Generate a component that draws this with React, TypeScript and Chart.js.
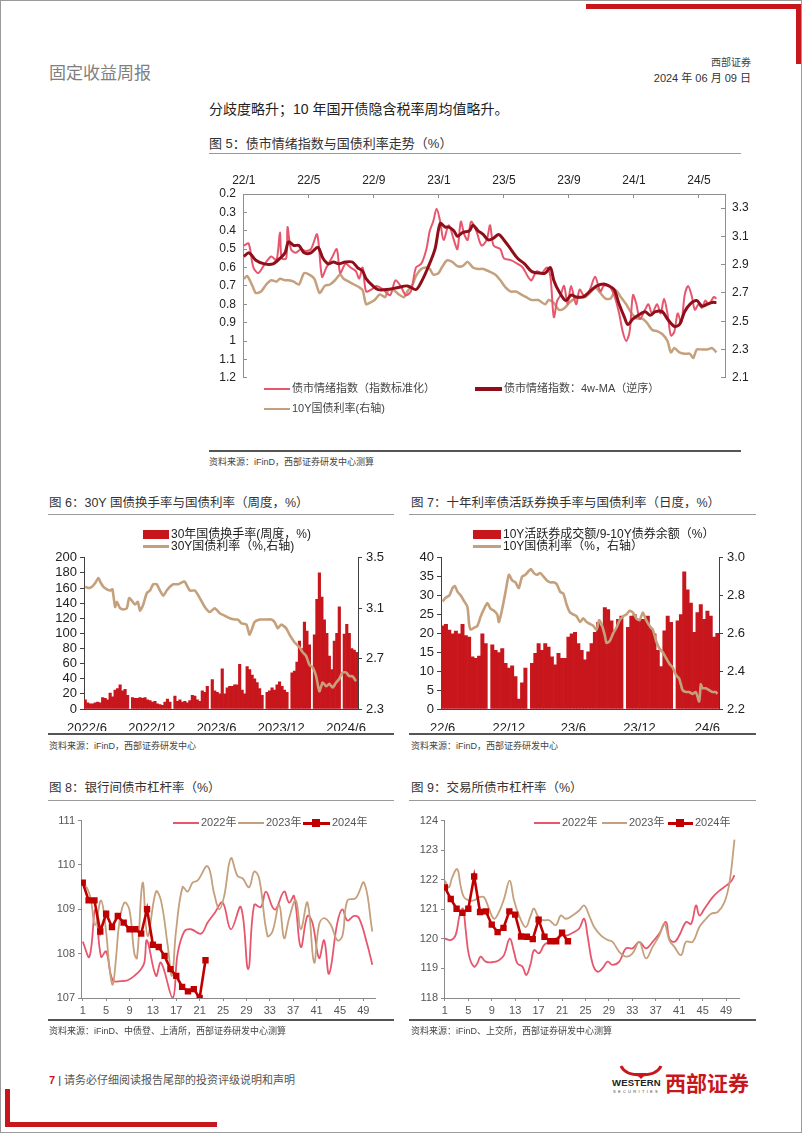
import React, { useEffect, useRef } from 'react';
import { Chart, registerables } from 'chart.js';
Chart.register(...registerables);

const FONT = '"Liberation Sans", Arial, "Noto Sans CJK SC", sans-serif';
Chart.defaults.font.family = FONT;

const PINK = '#E8566E';
const DARKRED = '#8E0F1A';
const TAN = '#C4A07C';
const RED = '#C8161D';
const RED24 = '#C00000';

// ---------- Figure 5 (x: months since 2022/1) ----------
const fig5TickPos = [0, 4, 8, 12, 16, 20, 24, 28];
const fig5TickLabels = ['22/1', '22/5', '22/9', '23/1', '23/5', '23/9', '24/1', '24/5'];
const fig5LeftTicks = [0.2, 0.3, 0.4, 0.5, 0.6, 0.7, 0.8, 0.9, 1.0, 1.1, 1.2];
const fig5RightTicks = [2.1, 2.3, 2.5, 2.7, 2.9, 3.1, 3.3];

const sentX = [0,0.30,0.59,0.89,1.29,1.69,2.01,2.22,2.33,2.61,2.69,2.90,3.20,3.50,3.81,4.13,4.51,4.81,5.08,5.40,5.72,5.93,6.25,6.57,6.89,7.10,7.31,7.52,7.84,8.16,8.58,9.00,9.32,9.64,9.96,10.28,10.59,10.91,11.23,11.44,11.65,11.86,12.08,12.29,12.61,12.92,13.14,13.35,13.56,13.77,13.98,14.30,14.62,14.94,15.15,15.36,15.78,16.00,16.42,16.84,17.16,17.48,17.69,18.01,18.33,18.64,18.86,19.07,19.28,19.49,19.70,19.92,20.13,20.44,20.66,20.97,21.29,21.61,21.93,22.14,22.46,22.78,23.09,23.31,23.52,23.73,23.94,24.15,24.36,24.68,24.89,25.11,25.42,25.64,25.85,26.06,26.27,26.48,26.69,26.91,27.12,27.33,27.54,27.75,27.97,28.18,28.39,28.60,28.92,29.07];
const sentVals = [0.48,0.47,0.60,0.63,0.58,0.54,0.56,0.41,0.55,0.55,0.38,0.50,0.52,0.50,0.51,0.50,0.42,0.65,0.60,0.55,0.50,0.63,0.58,0.60,0.62,0.66,0.60,0.73,0.72,0.70,0.72,0.75,0.67,0.70,0.75,0.73,0.60,0.58,0.50,0.40,0.35,0.28,0.35,0.45,0.37,0.45,0.50,0.35,0.42,0.45,0.35,0.40,0.48,0.45,0.37,0.48,0.50,0.55,0.56,0.58,0.60,0.65,0.67,0.62,0.63,0.60,0.65,0.87,0.78,0.75,0.70,0.80,0.70,0.80,0.72,0.76,0.72,0.65,0.73,0.70,0.70,0.75,0.85,0.95,1.00,0.95,0.75,0.80,0.88,0.83,0.80,0.85,0.80,0.85,0.77,0.85,0.97,0.95,0.85,0.90,0.75,0.70,0.75,0.83,0.80,0.82,0.78,0.80,0.76,0.77];

const maX = [0,0.32,0.74,1.27,1.80,2.22,2.54,2.75,3.07,3.39,3.71,4.13,4.56,4.87,5.19,5.51,5.83,6.25,6.67,6.99,7.31,7.52,7.94,8.26,8.79,9.43,10.06,10.59,10.91,11.33,11.76,12.08,12.39,12.61,12.92,13.14,13.45,13.88,14.09,14.41,14.72,15.04,15.36,15.68,16.00,16.42,16.84,17.27,17.69,18.11,18.54,18.86,19.07,19.39,19.81,20.13,20.44,20.87,21.29,21.72,22.14,22.46,22.78,23.09,23.41,23.62,23.94,24.26,24.68,25.00,25.32,25.74,26.06,26.48,26.80,27.12,27.44,27.86,28.18,28.50,28.81,29.07];
const maVals = [0.54,0.52,0.56,0.58,0.58,0.55,0.52,0.46,0.48,0.48,0.52,0.52,0.49,0.55,0.58,0.57,0.58,0.57,0.57,0.60,0.62,0.66,0.70,0.72,0.72,0.71,0.70,0.72,0.68,0.60,0.50,0.36,0.38,0.38,0.40,0.43,0.41,0.40,0.37,0.40,0.42,0.45,0.44,0.42,0.45,0.50,0.55,0.58,0.62,0.63,0.63,0.60,0.67,0.73,0.78,0.75,0.76,0.76,0.73,0.70,0.69,0.70,0.72,0.80,0.87,0.91,0.88,0.86,0.84,0.86,0.84,0.84,0.88,0.92,0.91,0.84,0.80,0.78,0.81,0.80,0.79,0.79];

const tenX = [0,0.21,0.53,0.74,1.06,1.38,1.69,2.01,2.22,2.54,2.75,3.07,3.39,3.71,4.03,4.34,4.66,4.98,5.30,5.61,5.93,6.14,6.46,6.78,7.10,7.31,7.52,7.73,8.05,8.37,8.69,8.90,9.22,9.53,9.85,10.06,10.38,10.59,10.91,11.23,11.44,11.65,11.97,12.18,12.50,12.82,13.14,13.45,13.77,14.09,14.41,14.72,15.15,15.47,15.78,16.10,16.42,16.74,17.06,17.37,17.69,18.11,18.54,18.75,19.07,19.39,19.70,20.02,20.34,20.66,20.97,21.29,21.61,21.93,22.25,22.56,22.88,23.20,23.52,23.83,24.15,24.47,24.79,25.11,25.42,25.74,26.06,26.27,26.48,26.80,27.12,27.44,27.65,27.86,28.18,28.50,28.81,29.07];
const tenVals = [2.80,2.82,2.75,2.70,2.71,2.76,2.79,2.78,2.80,2.79,2.79,2.78,2.76,2.84,2.83,2.80,2.70,2.75,2.76,2.79,2.83,2.80,2.78,2.76,2.74,2.72,2.62,2.63,2.65,2.69,2.67,2.72,2.72,2.69,2.67,2.71,2.76,2.82,2.87,2.88,2.87,2.83,2.84,2.88,2.93,2.92,2.89,2.89,2.92,2.88,2.87,2.87,2.85,2.83,2.79,2.74,2.71,2.71,2.69,2.67,2.65,2.65,2.62,2.65,2.63,2.58,2.59,2.63,2.66,2.67,2.67,2.70,2.74,2.70,2.66,2.66,2.72,2.67,2.62,2.56,2.52,2.52,2.49,2.44,2.43,2.41,2.36,2.28,2.31,2.28,2.27,2.27,2.24,2.30,2.30,2.30,2.31,2.28];

// ---------- Figure 6 (weekly, index 0 = 2022/6 first week) ----------
const fig6TickPos = [0.7, 26.7, 52.7, 78.7, 104.7];
const fig6TickLabels = ['2022/6', '2022/12', '2023/6', '2023/12', '2024/6'];
const fig6LeftTicks = [0, 20, 40, 60, 80, 100, 120, 140, 160, 180, 200];
const fig6RightTicks = [2.3, 2.7, 3.1, 3.5];
const turnover30 = [12,8,7,7,8,9,8,15,14,12,21,16,25,27,32,24,26,18,null,15,14,14,15,14,15,12,11,9,10,7,6,5,9,13,9,null,17,10,12,9,10,8,11,18,17,12,10,24,22,30,null,39,24,22,20,53,20,28,30,30,32,32,59,25,20,56,52,45,40,35,27,18,null,22,24,28,25,32,36,30,25,22,null,48,50,62,90,80,115,103,85,null,98,145,180,148,118,100,70,52,90,100,135,null,99,112,100,80,78,75];
const y30X = [0,1.3,2.7,4,5.3,6,7.3,8.7,10,10.9,12,12.7,14,15.3,16.7,17.6,18.7,20,21.1,22,23.3,24.7,26,27.3,28.7,30,31.3,32.7,34,35.3,37.3,39.3,40,42,44,46,48,50,52,54,56,58,60,61.3,62.7,64.7,66,68,70,72,74.7,76,77.3,78.7,80.7,82,84,86,87.3,88.7,90,91.3,92.7,94,95.3,96.7,98,99.3,100.7,102,103.3,104.7,106,107.3,108.7];
const y30Vals = [3.27,3.26,3.27,3.30,3.34,3.31,3.27,3.25,3.24,3.25,3.11,3.15,3.10,3.09,3.10,3.18,3.16,3.13,3.15,3.08,3.13,3.22,3.24,3.29,3.29,3.24,3.20,3.24,3.27,3.29,3.29,3.31,3.31,3.24,3.24,3.18,3.11,3.07,3.10,3.06,3.04,3.02,3.01,3.01,2.98,2.97,2.89,2.99,3.01,3.01,3.01,2.99,2.94,2.97,2.94,2.89,2.83,2.79,2.75,2.72,2.65,2.63,2.56,2.44,2.51,2.48,2.50,2.47,2.51,2.54,2.59,2.59,2.56,2.56,2.52];

// ---------- Figure 7 (daily sampled, index 0 = 2022/6) ----------
const fig7TickPos = [0, 20, 39.5, 59.5, 80];
const fig7TickLabels = ['22/6', '22/12', '23/6', '23/12', '24/6'];
const fig7LeftTicks = [0, 5, 10, 15, 20, 25, 30, 35, 40];
const fig7RightTicks = [2.2, 2.4, 2.6, 2.8, 3.0];
const turnover10 = [22,22.4,20.9,19.9,20.6,19.9,22.4,19.4,19,13.8,13.4,14,19.9,17.3,null,17,15.5,14.9,16,12.1,10.8,11.4,8.6,2.6,6.9,10.8,null,12.1,14.7,17.3,15.5,17.3,16.4,13.8,11.7,14.7,13.4,13.4,19,19.9,20.3,17.3,15.5,13,15.1,17.3,20.3,22.9,22,26.8,26.3,23.3,20.7,23.7,24.6,null,21.6,24.6,25,23.7,23.7,23.7,24.6,21.2,19.9,15.5,11.2,20.7,24.6,22.9,null,23.3,25,36.3,31.5,28,20.3,25.5,27.6,23.7,25.9,24.6,19,20];
const y10X = [0,1,2,3,3.7,4.5,5.5,6.5,7.5,8,8.5,9.5,10.5,11.5,12.5,13.5,14.5,15.5,16.5,17,18,19,20,21,22,23,24,25,26,26.7,27.5,28.5,29.5,30.5,31.5,32.5,33.5,34.5,35.5,36.5,37.5,38.5,39.5,40.5,41.5,42.5,43.5,44.5,45.5,46.5,47.3,48,49,49.5,50.5,51.5,52.5,53.5,54.5,55.5,56.5,57.5,58.5,59.5,60.5,61.5,62.5,63.5,64.5,65.5,66.5,67.5,68.5,69.5,70.5,71.5,72.5,73.5,74.5,75.5,76.5,77.5,78,78.5,79.5,80.5,81.5,82.5,83];
const y10Vals = [2.77,2.79,2.80,2.84,2.85,2.82,2.80,2.77,2.74,2.65,2.62,2.63,2.64,2.69,2.73,2.76,2.73,2.72,2.70,2.66,2.73,2.82,2.91,2.88,2.87,2.84,2.90,2.91,2.93,2.94,2.92,2.91,2.92,2.90,2.88,2.87,2.87,2.86,2.82,2.81,2.75,2.71,2.70,2.69,2.66,2.68,2.66,2.65,2.64,2.62,2.67,2.65,2.59,2.55,2.56,2.60,2.63,2.67,2.69,2.70,2.72,2.71,2.68,2.67,2.71,2.67,2.64,2.62,2.56,2.52,2.50,2.47,2.44,2.42,2.38,2.36,2.30,2.29,2.29,2.28,2.29,2.24,2.33,2.31,2.31,2.30,2.29,2.29,2.28];

// ---------- Figure 8 / 9 (week of year) ----------
const weekTicks = [1, 5, 9, 13, 17, 21, 25, 29, 33, 37, 41, 45, 49];
const fig8Ticks = [107, 108, 109, 110, 111];
const fig9Ticks = [118, 119, 120, 121, 122, 123, 124];
const week24 = [1,2,3,4,5,6,7,8,9,10,11,12,13,14,15,16,17,18,19,20,21,22];

const f8w22X = [1.0,2.14,3.16,4.13,4.99,6.13,7.55,8.69,9.83,10.97,11.54,11.99,13.53,14.38,16.38,17.23,18.37,19.51,21.22,22.36,23.49,24.92,26.34,28.05,29.30,30.33,31.47,32.32,33.46,34.03,35.45,36.31,37.16,38.30,39.44,40.29,41.43,42.29,43.14,44.56,45.42,46.27,47.41,48.27,49.69,50.54];
const f8w22 = [108.27,107.93,109.0,107.93,108.05,107.4,107.38,107.4,107.5,107.65,107.8,108.3,107.5,107.8,107.0,108.0,108.5,108.55,108.45,108.7,108.9,109.15,108.55,109.05,107.65,109.1,109.05,109.4,109.05,109.0,109.4,109.15,109.3,108.15,108.85,108.7,107.9,108.3,107.55,108.7,109.0,108.75,108.85,108.8,108.2,107.75];
const f8w23X = [1.0,1.85,2.42,3.11,4.13,4.99,5.56,6.13,6.69,7.26,8.12,8.97,9.83,10.28,11.25,12.10,13.53,14.38,15.52,16.26,16.95,18.08,18.94,19.79,20.65,22.36,23.49,24.35,25.20,26.34,27.48,28.33,29.47,30.33,31.18,32.61,33.46,34.60,35.45,36.31,37.45,38.30,39.44,40.58,41.43,42.29,43.43,44.56,45.42,46.27,47.70,49.12,50.54];
const f8w23 = [109.6,109.45,109.2,108.64,109.2,108.5,107.7,107.3,107.9,108.7,109.15,109.0,108.0,107.9,109.6,108.4,109.4,109.2,108.2,107.5,108.5,109.5,109.4,109.6,109.65,109.97,109.35,109.0,109.3,110.15,109.75,109.7,109.5,109.85,109.7,108.4,108.5,109.1,108.35,108.8,109.2,108.55,109.15,107.8,108.65,108.8,108.65,108.3,108.4,109.2,109.25,109.6,108.5];
const f8w24 = [109.6,109.2,109.2,108.5,108.9,108.6,108.85,108.7,108.55,108.55,108.45,109.0,108.2,108.15,107.95,107.65,107.5,107.25,107.15,107.2,107.0,107.85];

const f9w22X = [1,1.97,2.82,3.51,4.08,4.53,5.10,5.96,6.53,7.10,7.96,9.10,10.24,11.09,12.06,12.80,13.37,14.23,14.91,15.65,16.22,17.08,17.93,18.79,19.93,21.07,21.92,23.06,23.92,24.77,25.34,26.20,27.05,27.91,28.77,29.62,30.76,31.90,33.04,34.18,35.32,36.46,37.60,38.74,39.31,40.17,41.02,42.16,43.02,43.87,44.44,45.30,46.72,47.86,49.00,49.86,50.43];
const f9w22 = [120.01,119.96,120.12,120.79,121.02,120.35,119.45,119.06,119.17,119.40,119.23,119.21,119.28,119.45,120.01,119.56,119.17,119.06,118.78,119.17,119.62,119.51,119.79,119.90,120.01,120.12,120.12,120.23,120.35,120.68,120.12,119.17,118.89,119.01,119.23,119.12,119.23,119.68,119.68,119.90,119.68,119.90,120.18,120.57,120.01,119.90,120.12,120.57,120.51,121.13,120.79,121.02,121.41,121.63,121.8,121.95,122.15];
const f9w23X = [1,1.68,2.25,3.11,3.68,4.25,5.10,5.96,6.82,7.67,8.53,9.38,10.24,11.09,12.06,12.80,13.66,14.80,15.65,16.22,17.08,17.93,18.79,19.93,20.78,21.64,22.78,23.92,24.77,25.63,26.48,27.62,28.77,29.62,30.76,31.90,33.04,34.18,35.32,36.46,37.60,38.46,39.31,40.17,41.31,42.16,43.30,44.44,45.58,46.44,47.58,48.72,49.58,50.43];
const f9w23 = [121.97,121.74,122.08,122.36,121.80,121.41,121.30,121.30,121.41,121.41,121.02,120.68,120.91,121.35,121.97,121.30,120.79,120.40,120.79,121.02,120.68,120.63,120.63,120.46,120.79,120.68,120.79,120.96,121.13,120.79,120.40,120.12,119.96,119.90,119.56,119.40,119.51,119.90,119.34,119.73,120.12,120.51,119.96,119.73,119.45,119.90,119.90,120.40,120.68,120.85,120.91,121.24,121.91,123.36];
const f9w24 = [121.74,121.35,121.02,120.88,121.02,122.11,120.91,120.93,120.48,120.23,120.37,120.93,120.82,120.08,120.07,119.99,120.65,120.07,119.92,119.92,120.21,119.92];

// ---------- helpers ----------
const pts = (xs: number[], ys: (number | null)[]) => xs.map((x, i) => ({ x, y: ys[i] }));
const idxPts = (ys: (number | null)[]) => ys.map((y, i) => ({ x: i, y }));
const ticksAt = (vals: number[]) => (scale: any) => { scale.ticks = vals.map((v) => ({ value: v })); };
const labelFor = (pos: number[], labels: string[]) => (v: number) => { const i = pos.indexOf(v); return i >= 0 ? labels[i] : ''; };
const baseOpts = { responsive: false, animation: false, events: [] as any[], plugins: { legend: { display: false }, tooltip: { enabled: false } } };

function fig5Config(): any {
  const ac = '#8f8f8f';
  return {
    type: 'line',
    data: { datasets: [
      { data: pts(maX, maVals), borderColor: DARKRED, borderWidth: 3, pointRadius: 0, tension: 0.3, yAxisID: 'y', order: 0 },
      { data: pts(sentX, sentVals), borderColor: PINK, borderWidth: 2, pointRadius: 0, tension: 0.3, yAxisID: 'y', order: 1 },
      { data: pts(tenX, tenVals), borderColor: TAN, borderWidth: 2.5, pointRadius: 0, tension: 0.25, yAxisID: 'y2', order: 2 },
    ] },
    options: {
      ...baseOpts,
      layout: { padding: { top: 0, bottom: 5, left: 0, right: 0 } },
      scales: {
        x: { type: 'linear', position: 'top', min: -0.05, max: 29.6, afterBuildTicks: ticksAt(fig5TickPos), afterFit: (s: any) => { s.height = 28; },
          ticks: { autoSkip: false, maxRotation: 0, padding: 10, color: '#222', font: { size: 12 }, callback: labelFor(fig5TickPos, fig5TickLabels) },
          grid: { drawOnChartArea: false, tickLength: -4, color: ac }, border: { color: ac } },
        y: { position: 'left', reverse: true, min: 0.2, max: 1.2, afterBuildTicks: ticksAt(fig5LeftTicks), afterFit: (s: any) => { s.width = 42; },
          ticks: { autoSkip: false, padding: 11, color: '#222', font: { size: 12 }, callback: (v: number) => String(+v.toFixed(1)) },
          grid: { drawOnChartArea: false, tickLength: -4, color: ac }, border: { color: ac } },
        y2: { position: 'right', min: 2.1, max: 3.4, afterBuildTicks: ticksAt(fig5RightTicks), afterFit: (s: any) => { s.width = 26; },
          ticks: { autoSkip: false, padding: 11, color: '#222', font: { size: 12 }, callback: (v: number) => v.toFixed(1) },
          grid: { drawOnChartArea: false, tickLength: -4, color: ac }, border: { color: ac } },
      },
    },
  };
}

function barLineConfig(bars: (number | null)[], lx: number[], ly: number[], xMax: number, tickPos: number[], tickLabels: string[], leftTicks: number[], rightTicks: number[], leftW: number, rightW: number): any {
  const ac = '#404040';
  return {
    type: 'bar',
    data: { datasets: [
      { type: 'line', data: pts(lx, ly), borderColor: TAN, borderWidth: 2.6, pointRadius: 0, tension: 0.2, yAxisID: 'y2', order: 0 },
      { type: 'bar', data: idxPts(bars), backgroundColor: RED, borderWidth: 0, barPercentage: 1, categoryPercentage: 1, yAxisID: 'y', order: 1 },
    ] },
    options: {
      ...baseOpts,
      layout: { padding: { top: 7, bottom: 0, left: 0, right: 0 } },
      scales: {
        x: { type: 'linear', offset: false, min: -0.5, max: xMax, afterBuildTicks: ticksAt(tickPos), afterFit: (s: any) => { s.height = 22; },
          ticks: { autoSkip: false, maxRotation: 0, padding: 4, color: '#222', font: { size: 13 }, callback: labelFor(tickPos, tickLabels) },
          grid: { display: false }, border: { color: ac } },
        y: { position: 'left', min: leftTicks[0], max: leftTicks[leftTicks.length - 1], afterBuildTicks: ticksAt(leftTicks), afterFit: (s: any) => { s.width = leftW; },
          ticks: { autoSkip: false, padding: 3, color: '#222', font: { size: 13 } },
          grid: { drawOnChartArea: false, tickLength: 4, color: ac }, border: { color: ac } },
        y2: { position: 'right', min: rightTicks[0], max: rightTicks[rightTicks.length - 1], afterBuildTicks: ticksAt(rightTicks), afterFit: (s: any) => { s.width = rightW; },
          ticks: { autoSkip: false, padding: 4, color: '#222', font: { size: 13 }, callback: (v: number) => v.toFixed(1) },
          grid: { drawOnChartArea: false, tickLength: 4, color: ac }, border: { color: ac } },
      },
    },
  };
}

function leverageConfig(x22: number[], v22: number[], x23: number[], v23: number[], v24: number[], yTicks: number[], xMin: number, xMax: number, leftW: number, padRight: number): any {
  const ac = '#8a8a8a';
  return {
    type: 'line',
    data: { datasets: [
      { data: pts(week24, v24), borderColor: RED24, backgroundColor: RED24, borderWidth: 2.6, pointStyle: 'rect', pointRadius: 4.5, pointBackgroundColor: RED24, pointBorderWidth: 0, tension: 0, order: 0 },
      { data: pts(x23, v23), borderColor: TAN, borderWidth: 1.8, pointRadius: 0, tension: 0.4, order: 1 },
      { data: pts(x22, v22), borderColor: PINK, borderWidth: 1.8, pointRadius: 0, tension: 0.4, order: 2 },
    ] },
    options: {
      ...baseOpts,
      layout: { padding: { top: 8, bottom: 0, left: 0, right: padRight } },
      scales: {
        x: { type: 'linear', min: xMin, max: xMax, afterBuildTicks: ticksAt(weekTicks), afterFit: (s: any) => { s.height = 23; },
          ticks: { autoSkip: false, maxRotation: 0, padding: 3, color: '#555', font: { size: 11 } },
          grid: { drawOnChartArea: false, tickLength: 3, color: ac }, border: { color: ac } },
        y: { position: 'left', min: yTicks[0], max: yTicks[yTicks.length - 1], afterBuildTicks: ticksAt(yTicks), afterFit: (s: any) => { s.width = leftW; },
          ticks: { autoSkip: false, padding: 3, color: '#555', font: { size: 11 } },
          grid: { drawOnChartArea: false, tickLength: 3, color: ac }, border: { color: ac } },
      },
    },
  };
}

function ChartBox({ left, top, width, height, make }: { left: number; top: number; width: number; height: number; make: () => any }) {
  const ref = useRef<HTMLCanvasElement>(null);
  useEffect(() => {
    const chart = new Chart(ref.current as HTMLCanvasElement, make());
    return () => chart.destroy();
  }, []);
  return (
    <div style={{ position: 'absolute', left, top, width, height }}>
      <canvas ref={ref} width={width} height={height} style={{ width, height, display: 'block' }} />
    </div>
  );
}

const TF = '"Liberation Sans", "Noto Sans CJK SC", sans-serif';

function T({ x, y, s, c = '#333', w = 400, right = false, children }: any) {
  const style: any = { position: 'absolute', top: y - s * 0.6, fontSize: s, lineHeight: `${s * 1.2}px`, color: c, fontWeight: w, whiteSpace: 'nowrap', fontFamily: TF };
  if (right) style.right = 802 - x; else style.left = x;
  return <div style={style}>{children}</div>;
}
function HL({ x1, x2, y, h = 1, c = '#999' }: any) {
  return <div style={{ position: 'absolute', left: x1, top: y - h / 2, width: x2 - x1, height: h, background: c }} />;
}
function Box({ x, y, w, h, c }: any) {
  return <div style={{ position: 'absolute', left: x, top: y, width: w, height: h, background: c }} />;
}

export default function App() {
  return (
    <div style={{ position: 'absolute', left: 0, top: 0, width: 802, height: 1133, background: '#fff', border: '1px solid #9a9a9a', boxSizing: 'border-box', overflow: 'hidden', fontFamily: TF }}>
      {/* page decorations */}
      <Box x={585} y={3} w={215} h={5} c="#C8161D" />
      <Box x={795} y={3} w={5} h={60} c="#C8161D" />
      <Box x={4} y={1088} w={5} h={38} c="#C8161D" />
      <Box x={4} y={1121} w={212} h={5} c="#C8161D" />

      <T x={48} y={73} s={17} c="#7f7f7f">固定收益周报</T>
      <T x={752} y={62} s={10} c="#444" right>西部证券</T>
      <T x={752} y={78} s={11} c="#333" right>2024 年 06 月 09 日</T>
      <T x={208} y={108} s={14} c="#222">分歧度略升；10 年国开债隐含税率周均值略升。</T>

      {/* Figure 5 */}
      <T x={208} y={143} s={13} c="#333">图 5：债市情绪指数与国债利率走势（%）</T>
      <HL x1={208} x2={740} y={152} c="#9a9a9a" />
      <ChartBox left={200} top={165} width={550} height={230} make={fig5Config} />
      <HL x1={263} x2={289} y={388} h={2.5} c={PINK} />
      <T x={291} y={388} s={11} c="#444">债市情绪指数（指数标准化）</T>
      <HL x1={474} x2={501} y={388} h={3.5} c={DARKRED} />
      <T x={503} y={388} s={11} c="#444">债市情绪指数：4w-MA（逆序）</T>
      <HL x1={263} x2={289} y={408} h={2.5} c={TAN} />
      <T x={291} y={408} s={11} c="#444">10Y国债利率(右轴)</T>
      <HL x1={208} x2={740} y={450} h={1.5} c="#555" />
      <T x={208} y={461} s={9} c="#444">资料来源：iFinD，西部证券研发中心测算</T>

      {/* Figure 6 */}
      <T x={48} y={502} s={12.5} c="#333">图 6：30Y 国债换手率与国债利率（周度，%）</T>
      <HL x1={47} x2={393} y={513} c="#9a9a9a" />
      <ChartBox left={40} top={545} width={360} height={185} make={() => barLineConfig(turnover30, y30X, y30Vals, 109.5, fig6TickPos, fig6TickLabels, fig6LeftTicks, fig6RightTicks, 43, 43)} />
      <Box x={142} y={529} w={26} h={9} c={RED} />
      <T x={170} y={533} s={12} c="#222">30年国债换手率(周度，%)</T>
      <HL x1={142} x2={168} y={545} h={3} c={TAN} />
      <T x={170} y={545} s={12} c="#222">30Y国债利率（%,右轴)</T>
      <HL x1={47} x2={393} y={733} h={1.5} c="#555" />
      <T x={48} y={745} s={9} c="#444">资料来源：iFinD，西部证券研发中心</T>

      {/* Figure 7 */}
      <T x={410} y={502} s={12.5} c="#333">图 7：十年利率债活跃券换手率与国债利率（日度，%）</T>
      <HL x1={408} x2={755} y={513} c="#9a9a9a" />
      <ChartBox left={405} top={545} width={360} height={185} make={() => barLineConfig(turnover10, y10X, y10Vals, 83.5, fig7TickPos, fig7TickLabels, fig7LeftTicks, fig7RightTicks, 35, 47)} />
      <Box x={472} y={529} w={28} h={9} c={RED} />
      <T x={502} y={533} s={12} c="#222">10Y活跃券成交额/9-10Y债券余额（%）</T>
      <HL x1={472} x2={500} y={545} h={3} c={TAN} />
      <T x={502} y={545} s={12} c="#222">10Y国债利率（%，右轴）</T>
      <HL x1={408} x2={755} y={733} h={1.5} c="#555" />
      <T x={410} y={745} s={9} c="#444">资料来源：iFinD，西部证券研发中心</T>

      {/* Figure 8 */}
      <T x={48} y={787} s={12.5} c="#333">图 8：银行间债市杠杆率（%）</T>
      <HL x1={47} x2={393} y={799} c="#9a9a9a" />
      <ChartBox left={40} top={810} width={345} height={210} make={() => leverageConfig(f8w22X, f8w22, f8w23X, f8w23, f8w24, fig8Ticks, 0.7, 51, 40, 11)} />
      <HL x1={172} x2={198} y={822} h={2} c={PINK} />
      <T x={200} y={822} s={11} c="#555">2022年</T>
      <HL x1={237} x2={263} y={822} h={2} c={TAN} />
      <T x={265} y={822} s={11} c="#555">2023年</T>
      <HL x1={302} x2={329} y={822} h={3} c={RED24} />
      <Box x={311} y={818} w={8} h={8} c={RED24} />
      <T x={331} y={822} s={11} c="#555">2024年</T>
      <HL x1={47} x2={393} y={1019} h={1.5} c="#555" />
      <T x={48} y={1030} s={9} c="#444">资料来源：iFinD、中债登、上清所，西部证券研发中心测算</T>

      {/* Figure 9 */}
      <T x={410} y={787} s={12.5} c="#333">图 9：交易所债市杠杆率（%）</T>
      <HL x1={408} x2={755} y={799} c="#9a9a9a" />
      <ChartBox left={405} top={810} width={345} height={210} make={() => leverageConfig(f9w22X, f9w22, f9w23X, f9w23, f9w24, fig9Ticks, 0.85, 51.2, 38, 12)} />
      <HL x1={533} x2={559} y={822} h={2} c={PINK} />
      <T x={561} y={822} s={11} c="#555">2022年</T>
      <HL x1={601} x2={626} y={822} h={2} c={TAN} />
      <T x={628} y={822} s={11} c="#555">2023年</T>
      <HL x1={667} x2={692} y={822} h={3} c={RED24} />
      <Box x={675} y={818} w={8} h={8} c={RED24} />
      <T x={694} y={822} s={11} c="#555">2024年</T>
      <HL x1={408} x2={755} y={1019} h={1.5} c="#555" />
      <T x={410} y={1030} s={9} c="#444">资料来源：iFinD、上交所，西部证券研发中心测算</T>

      {/* footer */}
      <div style={{ position: 'absolute', left: 48, top: 1071, fontSize: 11, lineHeight: '16px', whiteSpace: 'nowrap', fontFamily: TF, color: '#555' }}>
        <span style={{ color: '#C8161D', fontWeight: 700 }}>7</span>
        <span style={{ color: '#333' }}> | </span>
        请务必仔细阅读报告尾部的投资评级说明和声明
      </div>
      <svg style={{ position: 'absolute', left: 618, top: 1064 }} width={44} height={14}>
        <path d="M2 1 Q6 10 22 10 Q38 10 42 1" stroke="#C8161D" strokeWidth={3} fill="none" />
        <path d="M16 8 L22 14 L28 8 Z" fill="#C8161D" />
      </svg>
      <div style={{ position: 'absolute', left: 611, top: 1077, fontSize: 9.5, fontWeight: 700, letterSpacing: 0.2, fontFamily: TF, color: '#222', lineHeight: '10px' }}>WESTERN</div>
      <div style={{ position: 'absolute', left: 612, top: 1088, fontSize: 4, letterSpacing: 2.3, fontFamily: TF, color: '#444', lineHeight: '5px' }}>SECURITIES</div>
      <div style={{ position: 'absolute', left: 664, top: 1068, fontSize: 21, fontWeight: 700, fontFamily: '"Noto Sans CJK SC", sans-serif', color: '#C8161D', lineHeight: '26px', whiteSpace: 'nowrap' }}>西部证券</div>
    </div>
  );
}
